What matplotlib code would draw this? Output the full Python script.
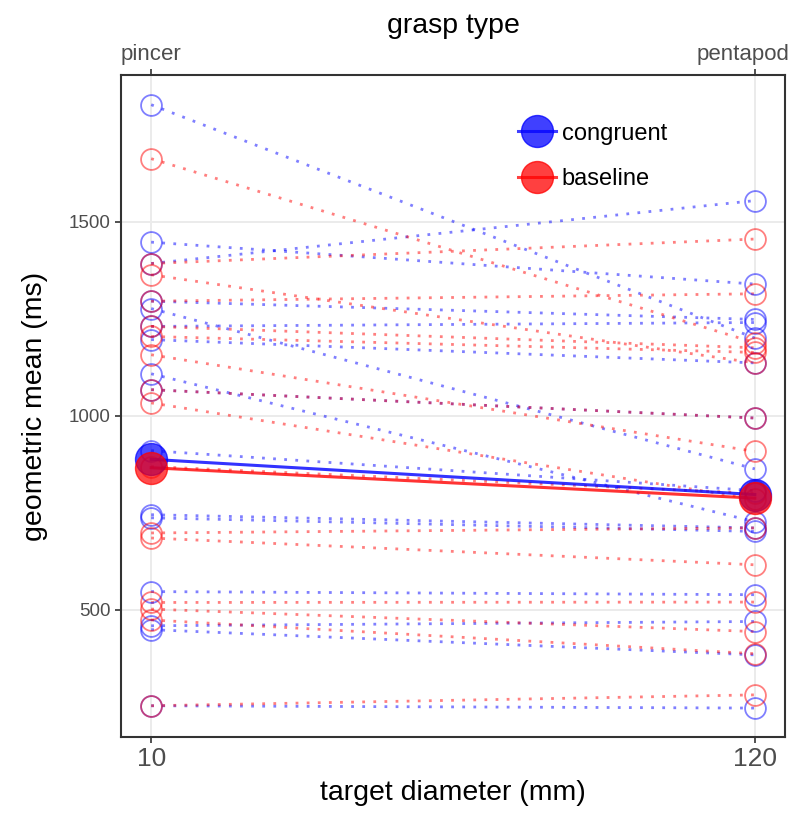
import numpy as np
import matplotlib
matplotlib.use("Agg")
import matplotlib.pyplot as plt
from matplotlib.lines import Line2D
from matplotlib.transforms import ScaledTranslation

plt.rcParams['font.family'] = ['Liberation Sans', 'DejaVu Sans']

# ---- data (geometric mean RT per participant, ms) ----
diameters = [10, 120]
grasp_labels = ["pincer", "pentapod"]

congruent_10 = [1801, 1447, 1392, 1295, 1276, 1230, 1196, 1108, 1067, 910,
                745, 737, 547, 459, 449, 253]
congruent_120 = [1200, 1339, 1554, 1248, 863, 1240, 1136, 727, 994, 807,
                 711, 702, 539, 470, 384, 247]

baseline_10 = [1662, 1392, 1363, 1295, 1230, 1204, 1157, 1067, 1033, 869,
               698, 685, 519, 502, 474, 253]
baseline_120 = [1188, 1455, 1136, 1314, 1175, 1163, 908, 994, 785, 800,
                711, 616, 520, 444, 387, 281]

conditions = ["congruent", "baseline"]
colors = {"congruent": "#0000FF", "baseline": "#FF0000"}
series = {"congruent": (congruent_10, congruent_120),
          "baseline": (baseline_10, baseline_120)}

fig = plt.figure(figsize=(8.01, 8.14), dpi=100)
ax = fig.add_axes([121/801, 1-737/814, (785-121)/801, (737-75)/814])

for cond in conditions:
    c = colors[cond]
    a, b = series[cond]
    for v1, v2 in zip(a, b):
        ax.plot(diameters, [v1, v2], linestyle=(0, (1, 3)), lw=2, color=c,
                alpha=0.5, zorder=2)
    ax.plot([diameters[0]]*len(a), a, 'o', ms=15, mfc='none', mec=c, mew=1.3,
            alpha=0.5, zorder=3)
    ax.plot([diameters[1]]*len(b), b, 'o', ms=15, mfc='none', mec=c, mew=1.3,
            alpha=0.5, zorder=3)

for cond in conditions:
    c = colors[cond]
    a, b = series[cond]
    gm = [float(np.exp(np.mean(np.log(a)))), float(np.exp(np.mean(np.log(b))))]
    ax.plot(diameters, gm, '-', lw=2.2, color=c, alpha=0.8, zorder=4)
    ax.plot(diameters, gm, 'o', ms=23, color=c, mec=c, alpha=0.7, zorder=5)

ax.set_xlim(4.5, 125.5)
ax.set_ylim(172.5, 1877.5)
ax.set_xticks(diameters)
ax.set_xticklabels([str(d) for d in diameters])
ax.set_yticks([500, 1000, 1500])
ax.grid(True, color='#EBEBEB', lw=1.4, zorder=0)
ax.set_axisbelow(True)
for s in ax.spines.values():
    s.set_color('#333333')
    s.set_linewidth(1.5)
ax.tick_params(colors='#333333', labelcolor='#4D4D4D', length=4, width=1.2)
ax.tick_params(axis='y', labelsize=13.5)
ax.tick_params(axis='x', labelsize=19, pad=3)
ax.set_xlabel("target diameter (mm)", fontsize=20.5, labelpad=7)
ax.set_ylabel("geometric mean (ms)", fontsize=20.5, labelpad=15)

sec = ax.secondary_xaxis('top')
sec.set_xticks(diameters)
sec.set_xticklabels(grasp_labels)
sec.tick_params(colors='#333333', labelcolor='#4D4D4D', labelsize=16,
                length=4, width=1.2, pad=3)
sec.set_xlabel("grasp type", fontsize=20.5, labelpad=8)
sec.spines['top'].set_visible(False)
last = sec.get_xticklabels()[-1]
last.set_transform(last.get_transform() +
                   ScaledTranslation(-12/100, 0, fig.dpi_scale_trans))

handles = [Line2D([], [], color=colors[c], lw=2.2, marker='o', ms=23,
                  alpha=0.75) for c in conditions]
leg = ax.legend(handles, conditions, loc='upper left',
                bbox_to_anchor=(0.566, 0.96), frameon=True, fancybox=False,
                facecolor='white', edgecolor='none', framealpha=1.0,
                fontsize=17, handlelength=1.6, labelspacing=1.0,
                handletextpad=0.25, borderpad=0.4)
leg.set_zorder(6)

fig.savefig("out.png", dpi=100)
